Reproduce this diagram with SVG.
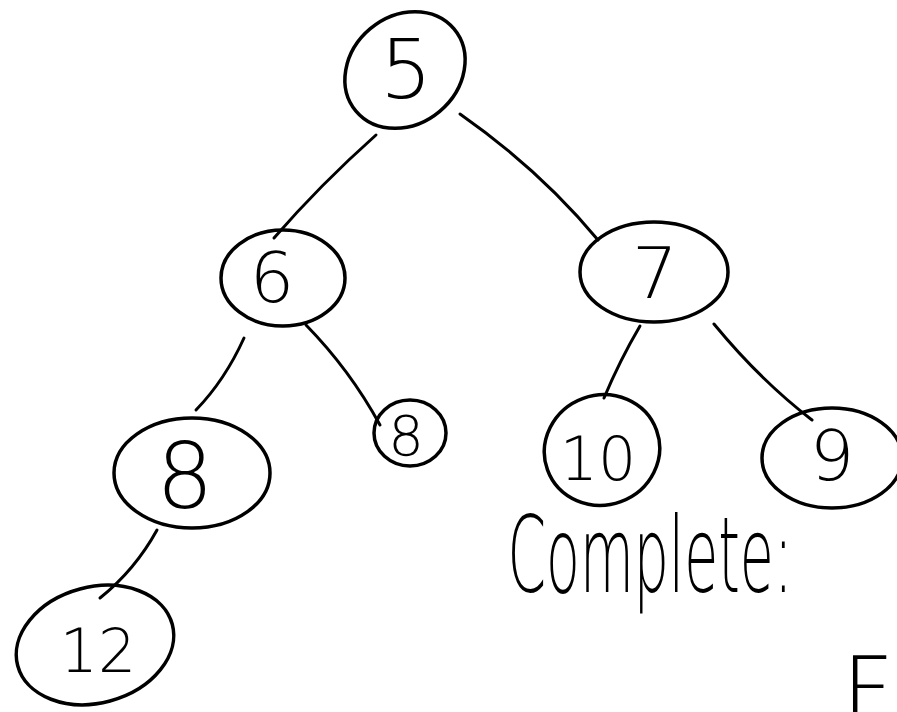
<svg xmlns="http://www.w3.org/2000/svg" width="897" height="712" viewBox="0 0 897 712">
<style>
.n{fill:none;stroke:#000;stroke-width:3.5;stroke-linecap:round}
.e{fill:none;stroke:#000;stroke-width:3;stroke-linecap:round}
.t{font-family:"DejaVu Sans","Liberation Sans",sans-serif;font-weight:200;fill:#000;text-anchor:middle}
</style>
<rect width="897" height="712" fill="#fff"/>
<g id="edges">
<path class="e" d="M376,135 Q320,185 274,238"/>
<path class="e" d="M460,114 Q540,170 598,240"/>
<path class="e" d="M244,338 Q225,380 196,410"/>
<path class="e" d="M306,325 Q350,370 380,425"/>
<path class="e" d="M640,326 Q620,360 604,398"/>
<path class="e" d="M714,324 Q760,380 812,420"/>
<path class="e" d="M157,530 Q135,570 100,598"/>
</g>
<g id="n5">
<ellipse class="n" cx="405" cy="70" rx="64" ry="54" transform="rotate(-40 405 70)"/>
<text class="t" x="406" y="98" font-size="82">5</text>
</g>
<g id="n6">
<ellipse class="n" cx="283" cy="278" rx="62" ry="48"/>
<text class="t" x="272" y="302" font-size="70">6</text>
</g>
<g id="n7">
<ellipse class="n" cx="654" cy="272" rx="74" ry="50"/>
<text class="t" x="655" y="298" font-size="72">7</text>
</g>
<g id="n8a">
<ellipse class="n" cx="192" cy="473" rx="78" ry="55"/>
<text class="t" x="185" y="508" font-size="90">8</text>
</g>
<g id="n8b">
<ellipse class="n" cx="410" cy="433" rx="36" ry="33"/>
<text class="t" x="406" y="455" font-size="56">8</text>
</g>
<g id="n10">
<ellipse class="n" cx="602" cy="450" rx="58" ry="55" transform="rotate(-20 602 450)"/>
<text class="t" x="598" y="480" font-size="60">10</text>
</g>
<g id="n9">
<ellipse class="n" cx="832" cy="458" rx="70" ry="50"/>
<text class="t" x="832" y="480" font-size="70">9</text>
</g>
<g id="n12">
<ellipse class="n" cx="95" cy="645" rx="80" ry="58" transform="rotate(-15 95 645)"/>
<text class="t" x="98" y="672" font-size="60">12</text>
</g>
<text class="t" x="650" y="592" font-size="105" textLength="285" lengthAdjust="spacingAndGlyphs">Complete:</text>
<text class="t" x="842" y="722" font-size="90" style="text-anchor:start">F</text>
</svg>
